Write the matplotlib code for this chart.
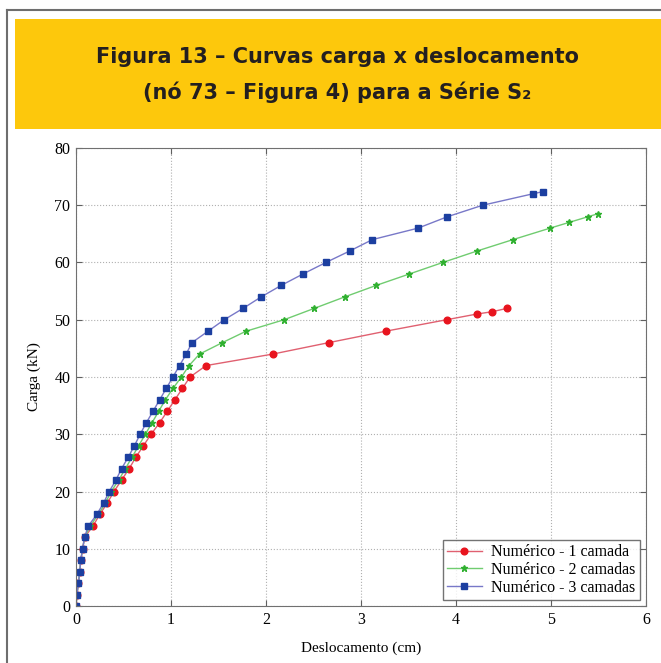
import numpy as np
import matplotlib
matplotlib.use("Agg")
from matplotlib import pyplot as plt
from matplotlib.lines import Line2D
from matplotlib.patches import Rectangle

# load (kN) vs displacement (cm), node 73
carga_1 = [0, 2, 4, 6, 8, 10, 12, 14, 16, 18, 20, 22, 24, 26, 28, 30, 32, 34, 36, 38, 40,
           42, 44, 46, 48, 50, 51, 51.4, 52]
desl_1 = [0, 0.01, 0.025, 0.04, 0.05, 0.07, 0.09, 0.18, 0.25, 0.33, 0.40, 0.48, 0.56, 0.63,
          0.71, 0.79, 0.88, 0.96, 1.04, 1.12, 1.20, 1.37, 2.07, 2.66, 3.26, 3.90, 4.22, 4.38, 4.54]

carga_2 = [0, 2, 4, 6, 8, 10, 12, 14, 16, 18, 20, 22, 24, 26, 28, 30, 32, 34, 36, 38, 40,
           42, 44, 46, 48, 50, 52, 54, 56, 58, 60, 62, 64, 66, 67, 68, 68.5]
desl_2 = [0, 0.01, 0.025, 0.04, 0.05, 0.07, 0.09, 0.15, 0.235, 0.31, 0.37, 0.45, 0.52, 0.59,
          0.66, 0.73, 0.80, 0.87, 0.94, 1.02, 1.11, 1.19, 1.30, 1.54, 1.79, 2.19, 2.51, 2.83,
          3.16, 3.51, 3.86, 4.22, 4.60, 4.99, 5.19, 5.39, 5.49]

carga_3 = [0, 2, 4, 6, 8, 10, 12, 14, 16, 18, 20, 22, 24, 26, 28, 30, 32, 34, 36, 38, 40,
           42, 44, 46, 48, 50, 52, 54, 56, 58, 60, 62, 64, 66, 68, 70, 72, 72.4]
desl_3 = [0, 0.01, 0.025, 0.04, 0.05, 0.07, 0.09, 0.13, 0.22, 0.29, 0.35, 0.42, 0.48, 0.55,
          0.615, 0.675, 0.74, 0.81, 0.88, 0.95, 1.02, 1.09, 1.16, 1.22, 1.39, 1.56, 1.76, 1.95,
          2.16, 2.39, 2.63, 2.88, 3.12, 3.60, 3.91, 4.28, 4.81, 4.92]

labels = ['Numérico - 1 camada', 'Numérico - 2 camadas', 'Numérico - 3 camadas']

fig = plt.figure(figsize=(6.61, 6.63), dpi=100)
W, H = 661, 663

# outer frame and yellow banner
fig.add_artist(Line2D([7 / W, 7 / W], [0, 1 - 10 / H], color='#6e6e6e', lw=1.5))
fig.add_artist(Line2D([7 / W, 1], [1 - 10 / H, 1 - 10 / H], color='#6e6e6e', lw=1.5))
fig.add_artist(Rectangle((15 / W, 1 - 129 / H), 1, 110 / H, facecolor='#fdc80c',
                         edgecolor='none', transform=fig.transFigure))
fig.text(337 / W, 1 - 57 / H, 'Figura 13 – Curvas carga x deslocamento', ha='center',
         va='center', fontsize=15, fontweight='bold', color='#231f20', family='DejaVu Sans')
fig.text(337 / W, 1 - 92 / H, '(nó 73 – Figura 4) para a Série S₂', ha='center',
         va='center', fontsize=15, fontweight='bold', color='#231f20', family='DejaVu Sans')

ax = fig.add_axes([76 / W, 57 / H, 570 / W, 458 / H])
serif = 'Liberation Serif'

ax.plot(desl_1, carga_1, color='#e06070', lw=1, marker='o', ms=4.8,
        mfc='#e8141e', mec='#e8141e', label=labels[0])
ax.plot(desl_2, carga_2, color='#70cc70', lw=1, marker='*', ms=5,
        mfc='#30b030', mec='#30b030', label=labels[1])
ax.plot(desl_3, carga_3, color='#7878c8', lw=1, marker='s', ms=5,
        mfc='#1c3fa0', mec='#1c3fa0', label=labels[2])

ax.set_xlim(0, 6)
ax.set_ylim(0, 80)
ax.set_xticks(range(0, 7))
ax.set_yticks(range(0, 81, 10))
ax.grid(True, linestyle=':', color='#b0b0b0', lw=0.8)
ax.tick_params(direction='in', top=True, right=True, length=4, labelsize=11.5,
               color='#606060', pad=4)
for lab in ax.get_xticklabels() + ax.get_yticklabels():
    lab.set_family(serif)
for s in ax.spines.values():
    s.set_color('#707070')
ax.set_xlabel('Deslocamento (cm)', family=serif, fontsize=11, labelpad=10)
ax.set_ylabel('Carga (kN)', family=serif, fontsize=11, labelpad=10)

leg = ax.legend(loc='lower right', prop={'family': serif, 'size': 11.5}, fancybox=False,
                edgecolor='#505050', borderpad=0.25, labelspacing=0.1, handlelength=2.2,
                handletextpad=0.6, borderaxespad=0.4)
leg.get_frame().set_linewidth(1)

fig.savefig('out.png', dpi=100)
